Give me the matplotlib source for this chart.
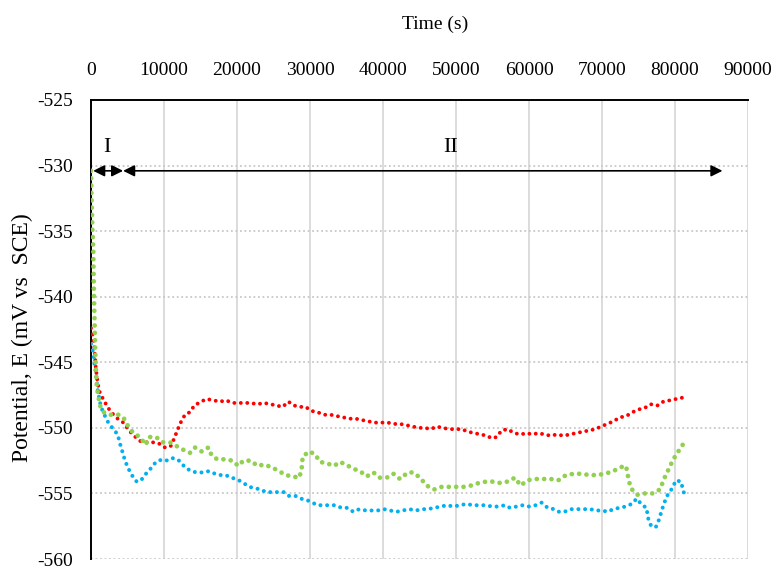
import matplotlib.pyplot as plt

plt.rcParams['font.family'] = ['Liberation Serif', 'DejaVu Serif']
plt.rcParams['axes.unicode_minus'] = False

# red series
t_red = [0, 180, 320, 460, 550, 640, 780, 920, 1140, 1460,
         1780, 2240, 2920, 3650, 4430, 5210, 5890, 6710, 7620, 8440,
         9320, 10140, 10910, 11410, 11820, 12280, 12870, 13560, 14150, 15070,
         15850, 16750, 17670, 18490, 19410, 20270, 21100, 21870, 22790, 23700,
         24620, 25440, 26260, 27030, 27850, 28630, 29410, 30140, 31000, 31920,
         32830, 33650, 34560, 35380, 36260, 37080, 37990, 38810, 39730, 40640,
         41550, 42330, 43240, 44070, 44970, 45750, 46530, 47350, 48180, 49080,
         49950, 50780, 51690, 52510, 53380, 54200, 54930, 55560, 56250, 57070,
         57990, 58860, 59680, 60450, 61280, 62100, 62960, 63840, 64700, 65620,
         66440, 67300, 68220, 69080, 69860, 70730, 71550, 72470, 73330, 74200,
         74970, 75800, 76670, 77580, 78400, 79320, 80140, 81000]
E_red = [-542.4, -542.8, -543.2, -543.9, -544.6, -545.3, -546.0, -546.6, -547.2, -547.6,
         -547.9, -548.4, -548.9, -549.3, -549.6, -550.2, -550.6, -551.0, -551.1, -551.1,
         -551.2, -551.5, -551.4, -550.8, -550.2, -549.6, -549.0, -548.8, -548.3, -548.0,
         -547.8, -547.9, -548.0, -547.9, -548.1, -548.1, -548.1, -548.1, -548.2, -548.1,
         -548.2, -548.3, -548.4, -548.0, -548.3, -548.4, -548.4, -548.7, -548.8, -549.0,
         -549.0, -549.1, -549.2, -549.3, -549.3, -549.4, -549.5, -549.6, -549.6, -549.6,
         -549.7, -549.7, -549.8, -549.9, -550.0, -550.0, -550.1, -549.9, -550.0, -550.1,
         -550.1, -550.1, -550.3, -550.4, -550.5, -550.6, -550.8, -550.7, -550.2, -550.1,
         -550.4, -550.5, -550.4, -550.5, -550.4, -550.5, -550.6, -550.5, -550.6, -550.5,
         -550.4, -550.3, -550.2, -550.1, -549.9, -549.7, -549.5, -549.2, -549.1, -548.8,
         -548.6, -548.5, -548.2, -548.3, -548.0, -547.9, -547.8, -547.7]

# blue series
t_blue = [0, 320, 460, 640, 780, 920, 1140, 1370, 1830, 2370,
          3060, 3650, 3970, 4290, 4660, 5110, 5710, 6260, 6850, 7530,
          8180, 8900, 9770, 10500, 11280, 12050, 12880, 13700, 14480, 15300,
          16160, 16990, 17670, 18450, 19180, 19950, 20870, 21690, 22470, 23250,
          23970, 24750, 25660, 26440, 27160, 28040, 28770, 29550, 30320, 31050,
          31820, 32640, 33420, 34330, 35150, 35930, 36750, 37670, 38440, 39270,
          40140, 40960, 41870, 42700, 43600, 44520, 45380, 46120, 47030, 47900,
          48810, 49630, 50550, 51460, 52290, 53150, 54060, 54970, 55790, 56710,
          57400, 58310, 59140, 60040, 60920, 61740, 62560, 63420, 64110, 64840,
          65750, 66620, 67530, 68360, 69270, 70050, 70780, 71550, 72370, 73250,
          74070, 74750, 75520, 76120, 76260, 76670, 77350, 77810, 78180, 78540,
          79000, 79630, 80140, 80820, 81140, 81460]
E_blue = [-543.6, -544.3, -545.1, -545.7, -546.4, -547.1, -547.8, -548.4, -549.0, -549.6,
          -550.1, -550.5, -551.2, -551.8, -552.5, -553.1, -553.7, -554.1, -554.0, -553.5,
          -553.1, -552.6, -552.4, -552.5, -552.3, -552.5, -553.0, -553.3, -553.4, -553.4,
          -553.3, -553.5, -553.6, -553.6, -553.8, -553.9, -554.2, -554.5, -554.6, -554.7,
          -554.9, -554.9, -554.9, -554.9, -555.2, -555.2, -555.4, -555.5, -555.7, -555.9,
          -555.9, -555.9, -555.9, -556.1, -556.1, -556.4, -556.2, -556.3, -556.3, -556.3,
          -556.2, -556.3, -556.4, -556.3, -556.2, -556.3, -556.2, -556.2, -556.1, -556.0,
          -555.9, -556.0, -555.9, -555.8, -555.9, -555.9, -555.9, -556.0, -556.0, -555.9,
          -556.1, -556.0, -555.9, -556.0, -555.9, -555.7, -556.1, -556.2, -556.4, -556.4,
          -556.2, -556.2, -556.2, -556.2, -556.3, -556.3, -556.4, -556.2, -556.1, -556.0,
          -555.8, -555.4, -555.9, -556.1, -556.8, -557.4, -557.6, -557.0, -556.3, -555.7,
          -555.1, -554.6, -554.0, -554.1, -554.8, -555.4]

# green series
t_green = [0, 30, 60, 100, 140, 180, 250, 320, 330, 360,
           380, 410, 440, 480, 510, 550, 590, 640, 710, 780,
           960, 1300, 1700, 2600, 3740, 4430, 5110, 5800, 6700, 7490,
           7950, 8900, 9820, 10800, 11740, 12740, 13560, 14250, 15160, 16070,
           16530, 17300, 18360, 19360, 20180, 20870, 21920, 22790, 23700, 24750,
           25750, 26670, 27580, 28540, 28860, 29000, 29860, 30680, 31370, 32280,
           33290, 34110, 34930, 35850, 36850, 37770, 38680, 39590, 40510, 41420,
           42330, 43400, 44160, 45070, 45980, 46990, 48040, 48810, 49950, 51000,
           52050, 53150, 54110, 55110, 56030, 57030, 58080, 58860, 59770, 60820,
           61870, 62960, 64010, 65070, 66160, 67210, 68260, 69360, 70410, 71550,
           72560, 73290, 73600, 73930, 74840, 75890, 76890, 77950, 78490, 79090,
           79770, 80450, 81280]
E_green = [-530.4, -531.2, -532.1, -532.9, -533.8, -534.7, -535.5, -536.4, -537.3, -538.2,
           -539.0, -539.9, -540.7, -541.6, -542.4, -543.3, -544.2, -545.0, -545.9, -546.7,
           -547.5, -548.4, -548.8, -549.0, -549.0, -549.2, -549.9, -550.4, -550.7, -551.3,
           -550.7, -550.7, -551.1, -551.1, -551.4, -551.7, -551.9, -551.5, -551.8, -551.5,
           -552.1, -552.4, -552.4, -552.5, -552.9, -552.5, -552.5, -552.9, -552.8, -553.0,
           -553.3, -553.6, -553.7, -553.8, -553.1, -552.2, -551.8, -552.0, -552.6, -552.7,
           -552.9, -552.6, -552.8, -553.1, -553.3, -553.7, -553.4, -553.8, -553.8, -553.5,
           -553.9, -553.4, -553.4, -553.8, -554.4, -554.7, -554.5, -554.5, -554.5, -554.5,
           -554.4, -554.2, -554.1, -554.1, -554.2, -554.1, -553.8, -554.4, -554.0, -553.9,
           -553.9, -553.9, -554.0, -553.6, -553.5, -553.5, -553.6, -553.6, -553.5, -553.3,
           -553.0, -552.9, -553.8, -554.6, -555.1, -555.0, -555.0, -554.7, -553.9, -553.2,
           -552.4, -551.8, -551.1]

x_ticks = [0, 10000, 20000, 30000, 40000, 50000, 60000, 70000, 80000, 90000]
y_ticks = [-560, -555, -550, -545, -540, -535, -530, -525]

fig = plt.figure(figsize=(7.73, 5.66), dpi=100)
ax = fig.add_axes([91 / 773, 1 - 559 / 566, 657 / 773, 459 / 566])

# excel style round dotted lines
ax.plot(t_red, E_red, color='#FF0000', lw=2.8, linestyle=(0, (0.01, 1.65)),
        dash_capstyle='round', zorder=3)
ax.plot(t_blue, E_blue, color='#00B0F0', lw=2.9, linestyle=(0, (0.01, 1.65)),
        dash_capstyle='round', zorder=3)
ax.plot(t_green, E_green, color='#92D050', lw=3.4, linestyle=(0, (0.01, 1.55)),
        dash_capstyle='round', zorder=4)

ax.set_xlim(0, 90000)
ax.set_ylim(-560, -525)
ax.set_xticks(x_ticks)
ax.set_yticks(y_ticks)
ax.xaxis.tick_top()
ax.tick_params(axis='x', length=0, pad=15, labelsize=14)
ax.tick_params(axis='y', length=0, pad=13, labelsize=14)

ax.grid(axis='x', color='#d9d9d9', lw=1.3, linestyle='-')
ax.grid(axis='y', color='#c8c8c8', lw=1.3, linestyle=(0, (1, 1.5)))
ax.set_axisbelow(True)
for s in ['right', 'bottom']:
    ax.spines[s].set_visible(False)
for s in ['top', 'left']:
    ax.spines[s].set_linewidth(1.4)
    ax.spines[s].set_color('black')

# regions I and II
y_arr = -530.4
ax.annotate('', xy=(300, y_arr), xytext=(4400, y_arr),
            arrowprops=dict(arrowstyle='<|-|>', color='black', lw=1.2,
                            mutation_scale=17, shrinkA=0, shrinkB=0))
ax.annotate('', xy=(4400, y_arr), xytext=(86500, y_arr),
            arrowprops=dict(arrowstyle='<|-|>', color='black', lw=1.2,
                            mutation_scale=17, shrinkA=0, shrinkB=0))
ax.text(2150, -528.6, 'I', fontsize=16, ha='center', va='center')
ax.text(49200, -528.6, 'II', fontsize=16, ha='center', va='center')

fig.text(435 / 773, 1 - 24 / 566, 'Time (s)', fontsize=14, ha='center', va='center')
fig.text(22 / 773, 1 - 338 / 566, 'Potential, E (mV vs  SCE)', fontsize=17,
         ha='center', va='center', rotation=90)

fig.savefig('out.png', dpi=100)
